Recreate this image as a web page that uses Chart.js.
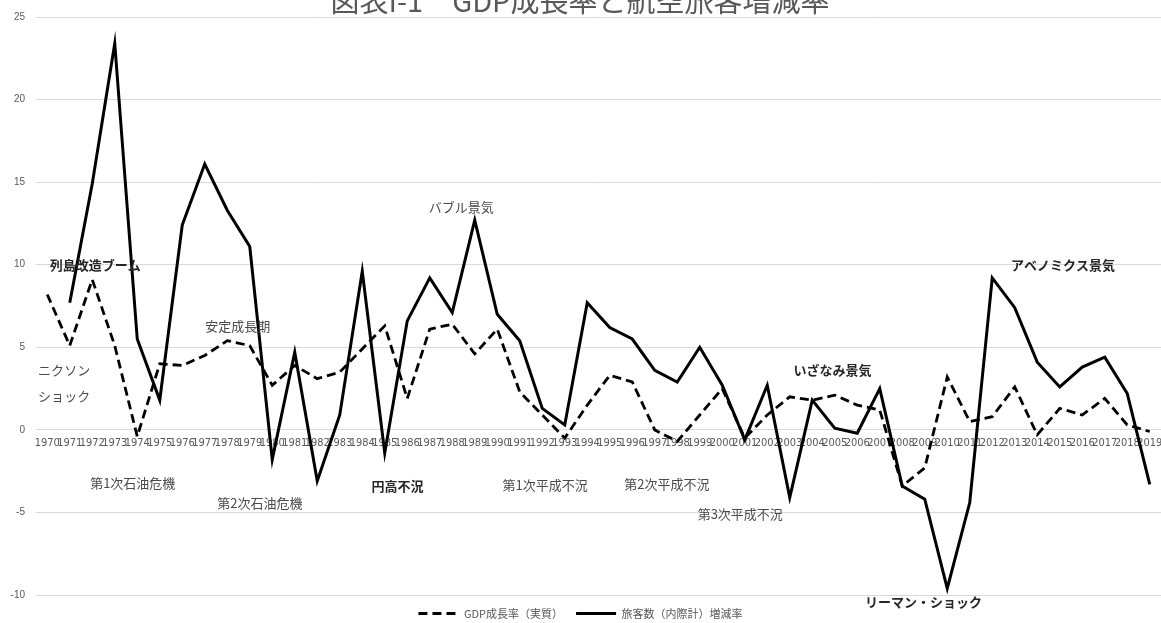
<!DOCTYPE html>
<html>
<head>
<meta charset="utf-8">
<script src="https://cdn.jsdelivr.net/npm/chart.js@4/dist/chart.umd.min.js"></script>
<style>
  html, body { margin: 0; padding: 0; background: #fff; }
  #gdpChart { display: block; }
</style>
</head>
<body>
<canvas id="gdpChart" width="1161" height="623"></canvas>
<script>
const years = ["1970","1971","1972","1973","1974","1975","1976","1977","1978","1979",
  "1980","1981","1982","1983","1984","1985","1986","1987","1988","1989",
  "1990","1991","1992","1993","1994","1995","1996","1997","1998","1999",
  "2000","2001","2002","2003","2004","2005","2006","2007","2008","2009",
  "2010","2011","2012","2013","2014","2015","2016","2017","2018","2019"];

// GDP成長率（実質）
const gdpGrowth = [8.2, 5.1, 9.1, 5.1, -0.4, 4.0, 3.9, 4.5, 5.4, 5.1,
  2.7, 3.9, 3.1, 3.5, 4.9, 6.3, 1.9, 6.1, 6.4, 4.6,
  6.1, 2.3, 0.9, -0.5, 1.5, 3.3, 2.9, 0.0, -0.7, 0.9,
  2.5, -0.5, 0.9, 2.0, 1.8, 2.1, 1.5, 1.2, -3.4, -2.3,
  3.2, 0.5, 0.8, 2.6, -0.3, 1.3, 0.9, 1.9, 0.3, -0.1];

// 旅客数（内際計）増減率
const passengerGrowth = [null, 7.7, 14.9, 23.4, 5.5, 1.8, 12.4, 16.1, 13.3, 11.1,
  -1.8, 4.7, -3.1, 0.9, 9.6, -1.4, 6.6, 9.2, 7.1, 12.7,
  7.0, 5.4, 1.3, 0.3, 7.7, 6.2, 5.5, 3.6, 2.9, 5.0,
  2.7, -0.6, 2.7, -4.1, 1.8, 0.1, -0.2, 2.5, -3.4, -4.2,
  -9.6, -4.4, 9.2, 7.4, 4.1, 2.6, 3.8, 4.4, 2.2, -3.3];

const yTicks = [-10, -5, 0, 5, 10, 15, 20, 25];

// annotation texts: [text, category index, value, bold]
const notes = [
  ["列島改造ブーム", 2.13, 9.97, true],
  ["ニクソン", 0.75, 3.6, false],
  ["ショック", 0.75, 2.07, false],
  ["安定成長期", 8.47, 6.3, false],
  ["バブル景気", 18.4, 13.5, false],
  ["第1次石油危機", 3.8, -3.2, false],
  ["第2次石油危機", 9.45, -4.44, false],
  ["円高不況", 15.57, -3.4, true],
  ["第1次平成不況", 22.13, -3.34, false],
  ["第2次平成不況", 27.54, -3.28, false],
  ["第3次平成不況", 30.8, -5.1, false],
  ["いざなみ景気", 34.9, 3.6, true],
  ["アベノミクス景気", 45.14, 9.97, true],
  ["リーマン・ショック", 38.94, -10.4, true]
];

const titleText = "図表I-1　GDP成長率と航空旅客増減率";
const jpFont = "'Noto Sans CJK JP', 'Noto Sans', sans-serif";

const topTitle = {
  id: 'topTitle',
  afterDraw(chart) {
    const ctx = chart.ctx;
    ctx.save();
    ctx.font = "29px " + jpFont;
    ctx.fillStyle = '#595959';
    ctx.textAlign = 'center';
    ctx.textBaseline = 'alphabetic';
    ctx.fillText(titleText, 580, 12);
    ctx.restore();
  }
};

const noteLabels = {
  id: 'noteLabels',
  afterDatasetsDraw(chart) {
    const ctx = chart.ctx;
    const xs = chart.scales.x, ys = chart.scales.y;
    ctx.save();
    ctx.textAlign = 'center';
    ctx.textBaseline = 'middle';
    notes.forEach(n => {
      ctx.font = (n[3] ? "bold " : "") + "13px " + jpFont;
      ctx.fillStyle = n[3] ? '#262626' : '#4a4a4a';
      const px = xs.getPixelForValue(0) + n[1] * (xs.getPixelForValue(1) - xs.getPixelForValue(0));
      ctx.fillText(n[0], px, ys.getPixelForValue(n[2]));
    });
    ctx.restore();
  }
};

const ctx = document.getElementById('gdpChart').getContext('2d');
new Chart(ctx, {
  type: 'line',
  data: {
    labels: years,
    datasets: [{
      label: 'GDP成長率（実質）',
      data: gdpGrowth,
      borderColor: '#000',
      backgroundColor: '#000',
      borderWidth: 2.8,
      borderDash: [9, 5],
      pointRadius: 0,
      tension: 0,
      fill: false
    }, {
      label: '旅客数（内際計）増減率',
      data: passengerGrowth,
      borderColor: '#000',
      backgroundColor: '#000',
      borderWidth: 3,
      pointRadius: 0,
      tension: 0,
      fill: false
    }]
  },
  options: {
    responsive: false,
    animation: false,
    layout: { padding: { top: 17, right: 0, left: 0, bottom: -6 } },
    plugins: {
      title: { display: false },
      tooltip: { enabled: false },
      legend: {
        position: 'bottom',
        labels: {
          usePointStyle: true,
          pointStyle: 'line',
          pointStyleWidth: 40,
          boxHeight: 10,
          padding: 13,
          color: '#595959',
          font: { size: 11, family: jpFont },
          generateLabels(chart) {
            const items = Chart.defaults.plugins.legend.labels.generateLabels(chart);
            items.forEach((it, i) => {
              it.lineDash = chart.data.datasets[i].borderDash || [];
              it.lineWidth = 2.8;
            });
            return items;
          }
        }
      }
    },
    scales: {
      x: {
        offset: true,
        position: { y: 0 },
        afterFit(scale) { scale.paddingLeft = 0; scale.paddingRight = 0; },
        grid: { display: false, drawTicks: false },
        border: { display: false },
        ticks: {
          autoSkip: false,
          maxRotation: 0,
          minRotation: 0,
          padding: 7,
          color: '#595959',
          font: { size: 11, family: "'Liberation Sans Narrow', 'DejaVu Sans Condensed', sans-serif" }
        }
      },
      y: {
        min: -10,
        max: 25,
        afterBuildTicks(scale) { scale.ticks = yTicks.map(v => ({ value: v })); },
        afterFit(scale) { scale.width = 36; },
        grid: { color: '#d9d9d9', drawTicks: false },
        border: { display: false },
        ticks: {
          padding: 11,
          color: '#595959',
          font: { size: 10, family: "'Liberation Sans', sans-serif" }
        }
      }
    }
  },
  plugins: [topTitle, noteLabels]
});
</script>
</body>
</html>
